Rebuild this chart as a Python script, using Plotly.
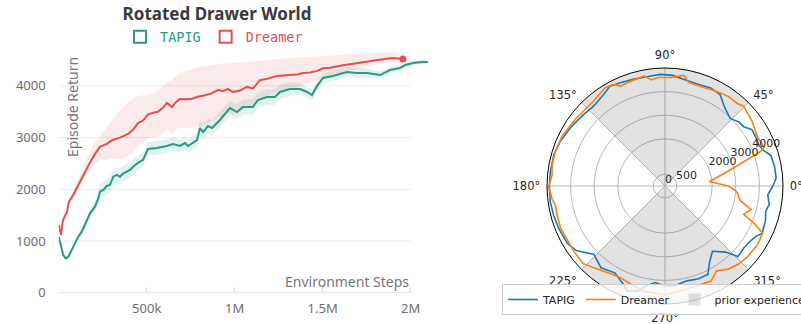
import numpy as np
import plotly.graph_objects as go

# ---------------- Left chart data ----------------
dreamer_steps_k = [0, 13, 24, 36, 47, 58, 83, 102, 131, 153, 178, 206, 234, 274, 303, 348, 394, 422, 451, 479,
                   508, 536, 564, 593, 615, 644, 667, 689, 723, 757, 791, 831, 865, 905, 933, 962, 990, 1030, 1070, 1104,
                   1144, 1189, 1240, 1274, 1314, 1354, 1388, 1428, 1468, 1502, 1542, 1581, 1615, 1655, 1712, 1757, 1809,
                   1854, 1894, 1928, 1956]
dreamer_return = [1310, 1120, 1400, 1500, 1560, 1760, 1890, 2020, 2210, 2370, 2520, 2680, 2820, 2880, 2950, 3000, 3070,
                  3150, 3280, 3330, 3450, 3480, 3500, 3580, 3670, 3590, 3690, 3745, 3740, 3750, 3790, 3820, 3850, 3920,
                  3900, 3940, 3880, 3910, 3980, 3950, 4110, 4140, 4190, 4200, 4210, 4220, 4250, 4260, 4290, 4340, 4350,
                  4380, 4400, 4420, 4440, 4470, 4500, 4520, 4540, 4530, 4520]
dreamer_upper = [1350, 1170, 1450, 1560, 1620, 1830, 1980, 2130, 2350, 2550, 2720, 2900, 3020, 3200, 3330, 3530, 3680,
                 3760, 3800, 3820, 3840, 3860, 3900, 4000, 4080, 4120, 4180, 4250, 4290, 4330, 4360, 4380, 4400, 4420,
                 4430, 4440, 4445, 4450, 4465, 4470, 4490, 4500, 4520, 4530, 4540, 4550, 4560, 4560, 4570, 4580, 4590,
                 4600, 4600, 4610, 4620, 4630, 4640, 4640, 4640, 4620, 4590]
dreamer_lower = [1260, 1070, 1350, 1440, 1500, 1690, 1810, 1930, 2110, 2250, 2370, 2480, 2570, 2570, 2600, 2580, 2640,
                 2710, 2830, 2880, 2990, 3010, 3010, 3080, 3160, 3070, 3150, 3200, 3180, 3180, 3210, 3240, 3300, 3400,
                 3420, 3480, 3440, 3500, 3590, 3580, 3760, 3810, 3890, 3920, 3950, 3980, 4020, 4050, 4100, 4160, 4190,
                 4230, 4260, 4290, 4330, 4370, 4410, 4430, 4450, 4450, 4440]

tapig_steps_k = [0, 13, 26, 40, 55, 74, 93, 111, 131, 159, 178, 206, 225, 235, 253, 273, 291, 310, 330, 348, 367, 405,
                 434, 462, 479, 507, 559, 615, 649, 689, 718, 735, 786, 803, 820, 848, 871, 916, 973, 1013, 1047, 1104,
                 1132, 1184, 1229, 1257, 1314, 1371, 1411, 1439, 1468, 1502, 1558, 1638, 1695, 1752, 1826, 1882, 1939,
                 1968, 2014, 2065, 2097]
tapig_return = [1083, 890, 729, 665, 696, 826, 960, 1083, 1180, 1373, 1535, 1664, 1826, 1954, 1987, 2064, 2083, 2244,
                2277, 2244, 2310, 2373, 2470, 2534, 2567, 2780, 2800, 2838, 2876, 2838, 2895, 2838, 2953, 3185, 3108,
                3224, 3185, 3340, 3572, 3495, 3592, 3592, 3727, 3785, 3785, 3882, 3940, 3940, 3882, 3823, 4000, 4153,
                4191, 4268, 4249, 4249, 4210, 4307, 4345, 4403, 4442, 4461, 4461]
tapig_spread = [30, 30, 30, 30, 30, 30, 30, 40, 80, 80, 100, 120, 150, 150, 150, 150, 150, 150, 150, 150, 150, 150,
                150, 140, 130, 130, 130, 130, 130, 130, 130, 130, 130, 150, 150, 150, 150, 150, 150, 150, 150, 150,
                150, 150, 150, 140, 130, 110, 100, 100, 100, 100, 100, 100, 100, 90, 70, 60, 60, 60, 50, 40, 30]

x_tickvals = [500000, 1000000, 1500000, 2000000]
x_ticktext = ["500k", "1M", "1.5M", "2M"]
y_tickvals = [0, 1000, 2000, 3000, 4000]

# ---------------- Right (polar) chart data ----------------
tapig_theta = [0, 4, 10, 16, 19.5, 23, 28, 33, 37, 41, 46, 52.5, 59, 65, 72, 79, 86, 92.5, 99, 106, 113, 119, 124,
               132, 139, 148, 156.5, 164, 173, 180, 188, 195, 202, 210.5, 216, 224, 232, 240, 247, 250, 255.5, 258,
               264, 270, 276, 283, 290, 296, 300, 306, 312.5, 316, 322, 327, 331, 334, 341, 346, 350, 355, 360]
tapig_r = [4570, 4720, 4716, 4670, 4463, 4341, 4367, 4389, 4176, 4141, 3977, 4167, 4524, 4585, 4533, 4577, 4698, 4733,
           4697, 4712, 4768, 4828, 4669, 4537, 4596, 4704, 4819, 4898, 4895, 4901, 4907, 4880, 4850, 4797, 4650, 4180,
           4400, 4250, 4524, 4735, 4600, 4380, 4112, 4240, 4240, 4125, 4180, 4157, 3760, 3420, 3800, 4300, 4250, 4300,
           4400, 4580, 4500, 4400, 4486, 4370, 4570]

dreamer_theta = [0, 5.7, 12.3, 16.8, 19.6, 21.3, 27.9, 36.4, 45.4, 49, 54.8, 61.6, 68.2, 77, 80.4, 86.4, 93.6, 97.4,
                 100.6, 105.2, 110, 114, 116.8, 121.4, 130.4, 136.6, 142.8, 148.4, 153.9, 162.3, 169.4, 174.5, 180.5,
                 186.6, 190.3, 195.6, 202, 209, 216, 223.3, 228.6, 238, 244.1, 253, 259, 270, 277.4, 287.1, 295.9,
                 301.2, 307.3, 313.3, 319, 327.4, 334.2, 337.4, 340.2, 344.8, 349, 351.3, 354.3, 356.4, 360]
dreamer_r = [2684, 1892, 2596, 3410, 4235, 4515, 4432, 4594, 4750, 4646, 4650, 4568, 4482, 4495, 4765, 4606, 4606,
             4532, 4749, 4689, 4660, 4635, 4825, 4874, 4701, 4688, 4730, 4765, 4844, 4870, 4869, 4807, 4930, 4816,
             4715, 4742, 4769, 4725, 4753, 4780, 4602, 4377, 4319, 4444, 4550, 4611, 4504, 4444, 4481, 4204, 4428,
             4544, 4605, 4650, 4592, 4082, 3546, 3780, 3250, 3154, 3100, 2980, 2684]

prior_theta = [90, 270]
prior_width = [90, 90]
r_max = 5000
r_tickvals = [0, 500, 2000, 3000, 4000]
r_label_angle = 22.5
ang_tickvals = [0, 45, 90, 135, 180, 225, 270, 315]

TEAL = "#2a9a84"
RED = "#e2504f"
GRAY_TXT = "#6e6e6e"

fig = go.Figure()

dx = np.array(dreamer_steps_k) * 1000
tx = np.array(tapig_steps_k) * 1000
d_up = np.array(dreamer_upper)
d_lo = np.array(dreamer_lower)
t_y = np.array(tapig_return)
t_sp = np.array(tapig_spread)

# bands
fig.add_trace(go.Scatter(x=np.concatenate([dx, dx[::-1]]), y=np.concatenate([d_up, d_lo[::-1]]),
                         fill="toself", fillcolor="rgba(226,80,79,0.12)", line=dict(width=0),
                         mode="lines", showlegend=False, hoverinfo="skip"))
fig.add_trace(go.Scatter(x=np.concatenate([tx, tx[::-1]]), y=np.concatenate([t_y + t_sp, (t_y - t_sp)[::-1]]),
                         fill="toself", fillcolor="rgba(42,154,132,0.13)", line=dict(width=0),
                         mode="lines", showlegend=False, hoverinfo="skip"))
# lines
fig.add_trace(go.Scatter(x=tx, y=t_y, mode="lines", line=dict(color=TEAL, width=2), showlegend=False))
fig.add_trace(go.Scatter(x=dx, y=dreamer_return, mode="lines", line=dict(color=RED, width=2), showlegend=False))
fig.add_trace(go.Scatter(x=dx[-1:], y=dreamer_return[-1:], mode="markers", marker=dict(color=RED, size=7),
                         showlegend=False))
# legend entries (left)
fig.add_trace(go.Scatter(x=[None], y=[None], mode="markers", legend="legend",
                         name=f'<span style="color:{TEAL}">TAPIG</span>',
                         marker=dict(symbol="square-open", size=12, color=TEAL, line=dict(width=2, color=TEAL))))
fig.add_trace(go.Scatter(x=[None], y=[None], mode="markers", legend="legend",
                         name=f'<span style="color:{RED}">Dreamer</span>',
                         marker=dict(symbol="square-open", size=12, color=RED, line=dict(width=2, color=RED))))

# polar
fig.add_trace(go.Barpolar(r=[r_max] * len(prior_theta), theta=prior_theta, width=prior_width,
                          marker=dict(color="rgba(120,120,120,0.21)", line=dict(width=0)),
                          name="prior experience", legend="legend2", subplot="polar", legendrank=3))
fig.add_trace(go.Scatterpolar(r=tapig_r, theta=tapig_theta, mode="lines", name="TAPIG",
                              line=dict(color="#1f77b4", width=1.6), legend="legend2", subplot="polar",
                              legendrank=1))
fig.add_trace(go.Scatterpolar(r=dreamer_r, theta=dreamer_theta, mode="lines", name="Dreamer",
                              line=dict(color="#ff7f0e", width=1.6), legend="legend2", subplot="polar",
                              legendrank=2))
# radial tick labels (matplotlib style, horizontal, anchored at the tick point)
fig.add_trace(go.Scatterpolar(r=r_tickvals, theta=[r_label_angle] * len(r_tickvals), mode="text",
                              text=[str(v) for v in r_tickvals], textposition="top right",
                              textfont=dict(family="DejaVu Sans", size=11, color="#262626"),
                              showlegend=False, hoverinfo="skip", subplot="polar"))

W, H = 801, 324
x0_px, x1_px = 58.7, 428.3
y0_px, y1_px = 292.7, 49.7

shapes = []
for v in y_tickvals[1:]:
    shapes.append(dict(type="line", xref="x", yref="y", x0=0, x1=x_tickvals[-1], y0=v, y1=v,
                       line=dict(color="#ececec", width=1), layer="below"))
shapes.append(dict(type="line", xref="x", yref="y", x0=0, x1=x_tickvals[-1], y0=0, y1=0,
                   line=dict(color="#dddddd", width=1.5), layer="below"))

fig.update_layout(
    width=W, height=H, autosize=False,
    margin=dict(l=0, r=0, t=0, b=0, autoexpand=False),
    paper_bgcolor="white", plot_bgcolor="white",
    font=dict(family="Noto Sans", color=GRAY_TXT),
    title=dict(text="Rotated Drawer World", x=217 / W, y=1 - 14 / H, xanchor="center", yanchor="middle",
               font=dict(family="Noto Sans", size=17, color="#3a3a3a", weight="bold")),
    xaxis=dict(domain=[x0_px / W, x1_px / W], range=[0, 2100000], tickvals=x_tickvals, ticktext=x_ticktext,
               ticks="inside", ticklen=6, tickcolor="#dddddd", showgrid=False, zeroline=False, showline=False,
               tickfont=dict(size=13, color=GRAY_TXT), ticklabelstandoff=6),
    yaxis=dict(domain=[1 - y0_px / H, 1 - y1_px / H], range=[0, 4700], tickvals=y_tickvals, showgrid=False,
               zeroline=False, showline=False, ticks="", tickfont=dict(size=13, color=GRAY_TXT),
               ticklabelstandoff=12),
    shapes=shapes,
    annotations=[
        dict(text="Episode Return", xref="paper", yref="paper", x=72 / W, y=1 - 107 / H, textangle=-90,
             showarrow=False, font=dict(size=14, color="#777777"), xanchor="center", yanchor="middle"),
        dict(text="Environment Steps", xref="x", yref="paper", x=x_tickvals[-1], y=1 - 281 / H,
             showarrow=False, font=dict(size=14, color="#777777"), xanchor="right", yanchor="middle"),
    ],
    legend=dict(orientation="h", x=214 / W, y=1 - 37 / H, xanchor="center", yanchor="middle",
                font=dict(family="DejaVu Sans Mono", size=13.5), bgcolor="rgba(0,0,0,0)", itemwidth=30),
    legend2=dict(orientation="h", x=502 / W, y=1 - 284 / H, xanchor="left", yanchor="top", itemwidth=30,
                 font=dict(family="DejaVu Sans", size=11, color="#262626"), bgcolor="rgba(255,255,255,0.8)",
                 bordercolor="#cccccc", borderwidth=1),
    polar=dict(
        domain=dict(x=[547 / W, 783 / W], y=[1 - 304 / H, 1 - 68 / H]),
        bgcolor="white",
        radialaxis=dict(range=[0, r_max], tickvals=r_tickvals, showticklabels=False, showline=False,
                        ticks="", gridcolor="#b8b8b8", angle=r_label_angle),
        angularaxis=dict(rotation=0, direction="counterclockwise", tickvals=ang_tickvals,
                         ticktext=[f"{a}°" for a in ang_tickvals], showline=True, linecolor="#000000",
                         linewidth=1, gridcolor="#b8b8b8", ticks="outside", ticklen=4,
                         tickcolor="rgba(0,0,0,0)",
                         tickfont=dict(family="DejaVu Sans", size=11.5, color="#262626")),
    ),
)

fig.write_html("out.html", config={"displayModeBar": False},
               post_script="document.body.style.margin='0px';")
